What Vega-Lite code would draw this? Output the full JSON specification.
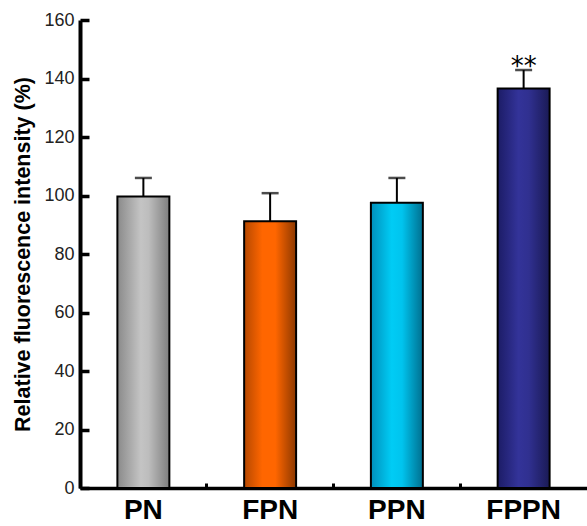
{
  "$schema": "https://vega.github.io/schema/vega-lite/v6.json",
  "width": 507,
  "height": 468,
  "autosize": {"type": "none"},
  "padding": {"left": 80, "top": 20, "right": 0, "bottom": 38},
  "background": "white",
  "config": {"view": {"stroke": null}, "font": "Liberation Sans"},
  "data": {"values": [
    {"group": "PN", "value": 99.7, "upper": 106, "sig": ""},
    {"group": "FPN", "value": 91.2, "upper": 100.8, "sig": ""},
    {"group": "PPN", "value": 97.5, "upper": 106, "sig": ""},
    {"group": "FPPN", "value": 136.6, "upper": 142.9, "sig": "**"}
  ]},
  "encoding": {
    "x": {"field": "group", "type": "nominal", "sort": ["PN", "FPN", "PPN", "FPPN"],
      "scale": {"paddingInner": 0, "paddingOuter": 0},
      "axis": {"title": null, "bandPosition": 0, "domainWidth": 3.5, "domainColor": "black", "tickSize": -5, "tickWidth": 3, "tickColor": "black",
        "labelAngle": 0, "labelFontSize": 28, "labelFontWeight": "bold", "labelColor": "black", "labelPadding": 13, "labelFont": "Liberation Sans"}}
  },
  "layer": [
    {"mark": {"type": "rule", "strokeWidth": 2, "color": "black"},
     "encoding": {"y": {"field": "value", "type": "quantitative"}, "y2": {"field": "upper"}}},
    {"mark": {"type": "tick", "orient": "horizontal", "size": 17, "thickness": 2.5, "color": "black"},
     "encoding": {"y": {"field": "upper", "type": "quantitative"}}},
    {"transform": [{"filter": "datum.group == 'PN'"}],
     "mark": {"type": "bar", "width": {"band": 0.41}, "stroke": "black", "strokeWidth": 2,
       "color": {"gradient": "linear", "x1": 0, "x2": 1, "y1": 0, "y2": 0, "stops": [
         {"offset": 0, "color": "#8a8a8a"}, {"offset": 0.45, "color": "#c4c4c4"}, {"offset": 0.6, "color": "#bdbdbd"}, {"offset": 1, "color": "#7e7e7e"}]}},
     "encoding": {"y": {"field": "value", "type": "quantitative"}}},
    {"transform": [{"filter": "datum.group == 'FPN'"}],
     "mark": {"type": "bar", "width": {"band": 0.41}, "stroke": "black", "strokeWidth": 2,
       "color": {"gradient": "linear", "x1": 0, "x2": 1, "y1": 0, "y2": 0, "stops": [
         {"offset": 0, "color": "#b54800"}, {"offset": 0.35, "color": "#ff6600"}, {"offset": 0.6, "color": "#ff6600"}, {"offset": 1, "color": "#8c3800"}]}},
     "encoding": {"y": {"field": "value", "type": "quantitative"}}},
    {"transform": [{"filter": "datum.group == 'PPN'"}],
     "mark": {"type": "bar", "width": {"band": 0.41}, "stroke": "black", "strokeWidth": 2,
       "color": {"gradient": "linear", "x1": 0, "x2": 1, "y1": 0, "y2": 0, "stops": [
         {"offset": 0, "color": "#0090bb"}, {"offset": 0.4, "color": "#00ccf5"}, {"offset": 0.6, "color": "#00c4ee"}, {"offset": 1, "color": "#006f8f"}]}},
     "encoding": {"y": {"field": "value", "type": "quantitative"}}},
    {"transform": [{"filter": "datum.group == 'FPPN'"}],
     "mark": {"type": "bar", "width": {"band": 0.41}, "stroke": "black", "strokeWidth": 2,
       "color": {"gradient": "linear", "x1": 0, "x2": 1, "y1": 0, "y2": 0, "stops": [
         {"offset": 0, "color": "#1c1c66"}, {"offset": 0.4, "color": "#333399"}, {"offset": 0.6, "color": "#303090"}, {"offset": 1, "color": "#1a1a55"}]}},
     "encoding": {"y": {"field": "value", "type": "quantitative",
       "scale": {"domain": [0, 160], "nice": false},
       "axis": {"title": "Relative fluorescence intensity (%)", "titleFontSize": 21.5, "titleFontWeight": "bold", "titleColor": "black", "titlePadding": 9,
         "values": [0, 20, 40, 60, 80, 100, 120, 140, 160], "grid": false, "domainWidth": 4, "domainColor": "black",
         "tickSize": -9, "tickWidth": 3.5, "tickColor": "black", "labelFontSize": 18, "labelColor": "#222", "labelPadding": 15}}}},
    {"mark": {"type": "text", "fontSize": 26, "font": "DejaVu Sans", "baseline": "middle", "dy": 5, "color": "black"},
     "encoding": {"y": {"datum": 145.5, "type": "quantitative"}, "text": {"field": "sig"}}}
  ]
}
